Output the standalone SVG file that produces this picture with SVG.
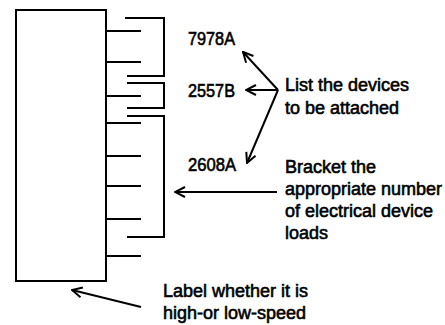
<svg xmlns="http://www.w3.org/2000/svg" width="445" height="325" viewBox="0 0 445 325">
<defs>
<marker id="ah" viewBox="0 0 12 12" refX="11" refY="6" markerWidth="12" markerHeight="12" markerUnits="userSpaceOnUse" orient="auto">
<path d="M1,1 L11,6 L1,11" fill="none" stroke="#000" stroke-width="2"/>
</marker>
<style>
.ln{stroke:#000;stroke-width:2;fill:none}
.t{font-family:"Liberation Sans",Arial,sans-serif;font-size:18px;fill:#000;stroke:#000;stroke-width:0.6}
</style>
</defs>
<rect width="445" height="325" fill="#fff"/>
<g id="unit">
<rect class="ln" x="16" y="10" width="90" height="271"/>
</g>
<g id="stubs">
<path class="ln" d="M106,31H141M106,62H141M106,96H141M106,123H141M106,156H141M106,186H141M106,219H141M106,256H141"/>
</g>
<g id="bracket-7978A">
<path class="ln" d="M125,18H164V76H127"/>
<text class="t" x="188" y="45" textLength="47" lengthAdjust="spacingAndGlyphs">7978A</text>
</g>
<g id="bracket-2557B">
<path class="ln" d="M127,83H164V108H127"/>
<text class="t" x="188" y="97" textLength="47" lengthAdjust="spacingAndGlyphs">2557B</text>
</g>
<g id="bracket-2608A">
<path class="ln" d="M127,116H164V237H127"/>
<text class="t" x="188" y="171" textLength="48" lengthAdjust="spacingAndGlyphs">2608A</text>
</g>
<g id="note-list">
<text class="t" x="285" y="91">List the devices</text>
<text class="t" x="285" y="114">to be attached</text>
</g>
<g id="note-bracket">
<text class="t" x="285" y="173">Bracket the</text>
<text class="t" x="285" y="195">appropriate number</text>
<text class="t" x="285" y="217">of electrical device</text>
<text class="t" x="285" y="239">loads</text>
</g>
<g id="note-label">
<text class="t" x="163" y="297">Label whether it is</text>
<text class="t" x="163" y="319">high-or low-speed</text>
</g>
<g id="connectors">
<path class="ln" d="M278,90L243,52" marker-end="url(#ah)"/>
<path class="ln" d="M278,90L246,90" marker-end="url(#ah)"/>
<path class="ln" d="M278,90L247,163" marker-end="url(#ah)"/>
<path class="ln" d="M277,192L175,192" marker-end="url(#ah)"/>
<path class="ln" d="M141,307L72,290" marker-end="url(#ah)"/>
</g>
</svg>
